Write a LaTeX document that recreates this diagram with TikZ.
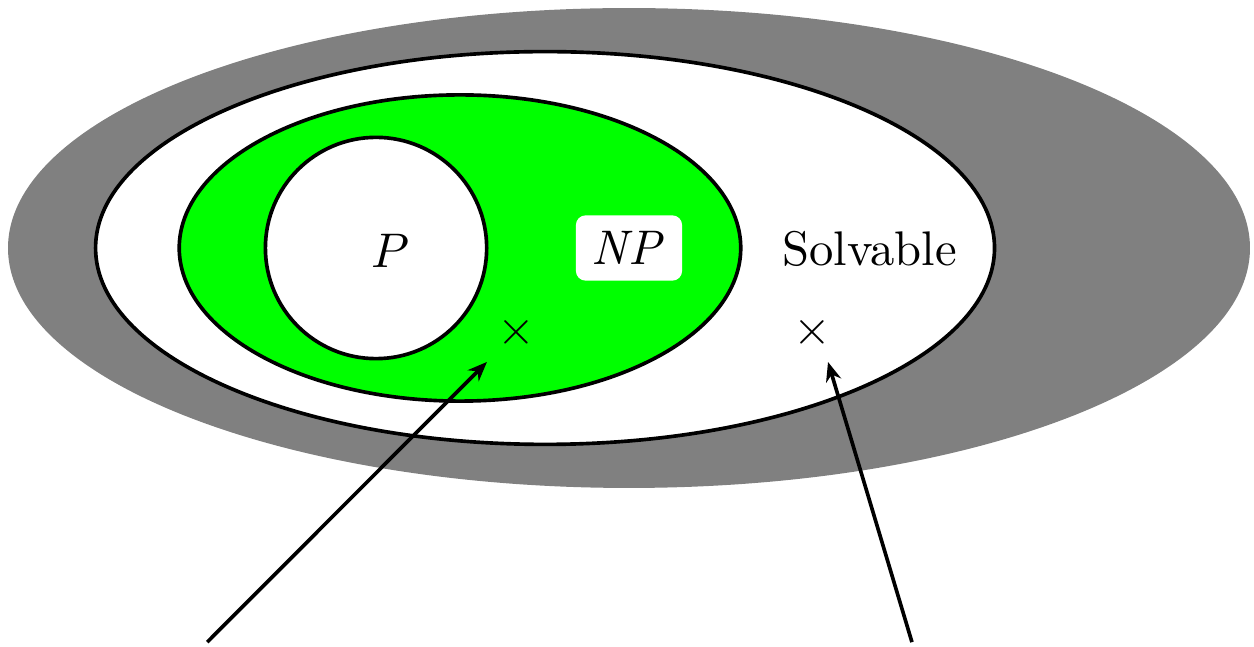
\documentclass[tikz,border=0pt]{standalone}
\usepackage{amsmath}
\usepackage{xcolor}
\usepackage{tikz}
\usetikzlibrary{arrows.meta,positioning}
\begin{document}
\begin{tikzpicture}[
  font=\normalsize,
  set/.style={draw=black, line width=0.75pt},
  mark x/.style={inner sep=0pt},
  arr/.style={-{Stealth[length=4pt,width=3.2pt]}, line width=0.75pt},
]
\useasboundingbox (-4.548,-2.878) rectangle (4.519,1.793);

% nested sets
\fill[gray] (0,0) ellipse [x radius=4.49cm, y radius=1.735cm];
\draw[set, fill=white] (-0.607,0) ellipse [x radius=3.25cm, y radius=1.42cm];
\draw[set, fill=green] (-1.222,0) ellipse [x radius=2.03cm, y radius=1.107cm];
\draw[set, fill=white] (-1.829,0) circle [radius=0.80cm];

\node (p) at (-1.728,-0.02) {$P$};
\node[fill=white, rounded corners=2pt, inner sep=3.3pt] (np) at (0,0) {$\mathit{NP}$};
\node (solv) at (1.74,-0.01) {Solvable};

\node[mark x] (x1) at (-0.817,-0.607) {$\times$};
\node[mark x] (x2) at (1.323,-0.607) {$\times$};

\coordinate (a1) at (-3.05,-2.85);
\coordinate (a2) at (2.046,-2.85);
\coordinate (t1) at (-1.027,-0.824);
\coordinate (t2) at (1.439,-0.824);
\draw[arr] (a1) -- (t1);
\draw[arr] (a2) -- (t2);
\end{tikzpicture}
\end{document}
